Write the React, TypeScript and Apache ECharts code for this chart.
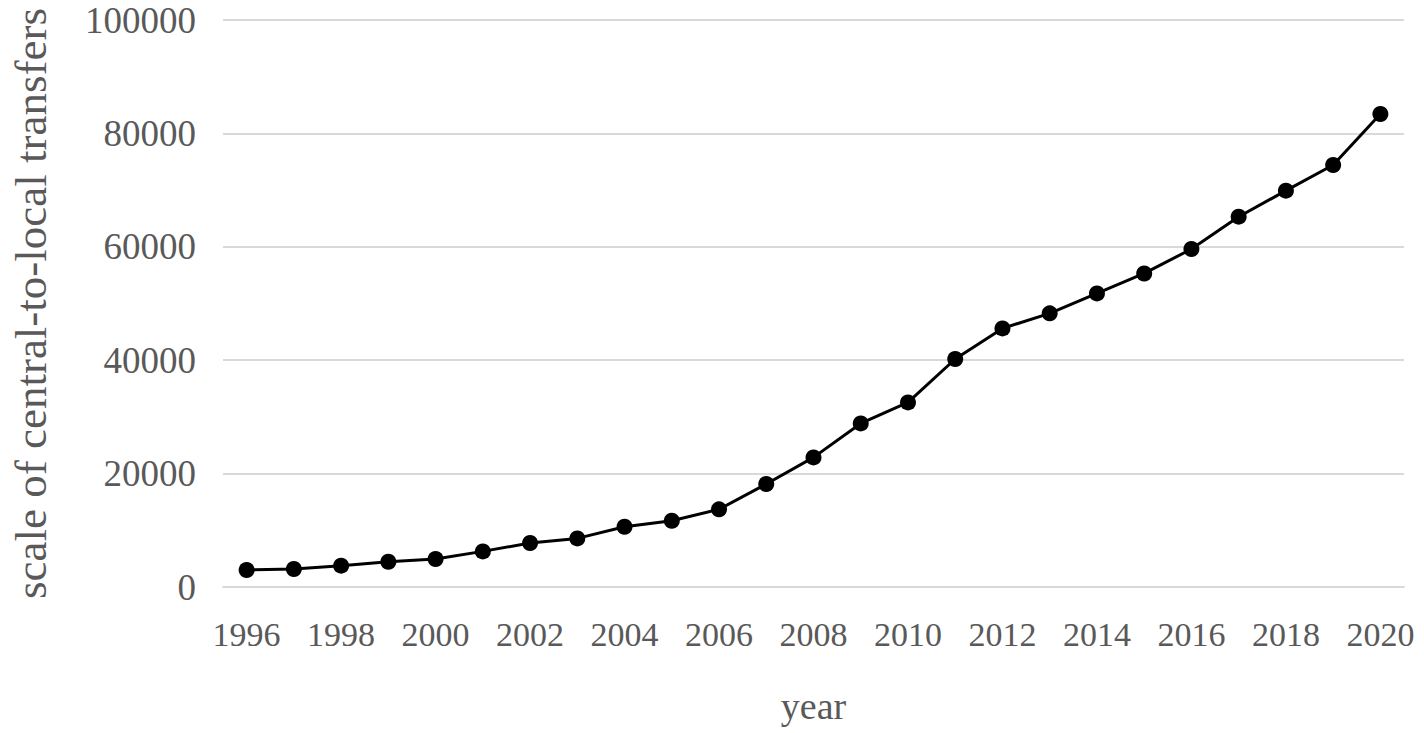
import React, { useEffect, useRef } from "react";
import * as echarts from "echarts";

const years = [
  "1996", "1997", "1998", "1999", "2000", "2001", "2002", "2003", "2004",
  "2005", "2006", "2007", "2008", "2009", "2010", "2011", "2012", "2013",
  "2014", "2015", "2016", "2017", "2018", "2019", "2020",
];

const transfers = [
  3000, 3175, 3760, 4460, 4940, 6280, 7760, 8570, 10630, 11690, 13700,
  18160, 22860, 28850, 32560, 40210, 45610, 48260, 51780, 55300, 59610,
  65310, 69900, 74430, 83420,
];

const yTitle = "scale of central-to-local transfers";
const xTitle = "year";

export default function App() {
  const ref = useRef<HTMLDivElement>(null);
  useEffect(() => {
    if (!ref.current) return;
    const chart = echarts.init(ref.current, null, { renderer: "svg" });
    const font = "'Liberation Serif', 'Times New Roman', serif";
    chart.setOption({
      animation: false,
      backgroundColor: "#ffffff",
      grid: { left: 214, right: 20, top: 20, bottom: 146, containLabel: false },
      xAxis: {
        type: "category",
        data: years,
        boundaryGap: true,
        name: xTitle,
        nameLocation: "middle",
        nameGap: 100,
        nameTextStyle: { color: "#595959", fontFamily: font, fontSize: 38 },
        axisTick: { show: false },
        axisLine: { lineStyle: { color: "#d9d9d9", width: 2 } },
        axisLabel: {
          interval: 1,
          color: "#595959",
          fontFamily: font,
          fontSize: 34,
          margin: 30,
        },
      },
      yAxis: {
        type: "value",
        min: 0,
        max: 100000,
        interval: 20000,
        name: yTitle,
        nameLocation: "middle",
        nameGap: 170,
        nameTextStyle: { color: "#595959", fontFamily: font, fontSize: 45 },
        axisLine: { show: false },
        axisTick: { show: false },
        axisLabel: {
          color: "#595959",
          fontFamily: font,
          fontSize: 37,
          margin: 27,
          formatter: (v: number) => String(v),
        },
        splitLine: { lineStyle: { color: "#d9d9d9", width: 2 } },
      },
      series: [
        {
          type: "line",
          data: transfers,
          symbol: "circle",
          symbolSize: 16,
          lineStyle: { color: "#000000", width: 3 },
          itemStyle: { color: "#000000" },
        },
      ],
    });
    return () => chart.dispose();
  }, []);
  return (
    <div
      ref={ref}
      style={{ position: "fixed", left: 0, top: 0, width: 1424, height: 733 }}
    />
  );
}
